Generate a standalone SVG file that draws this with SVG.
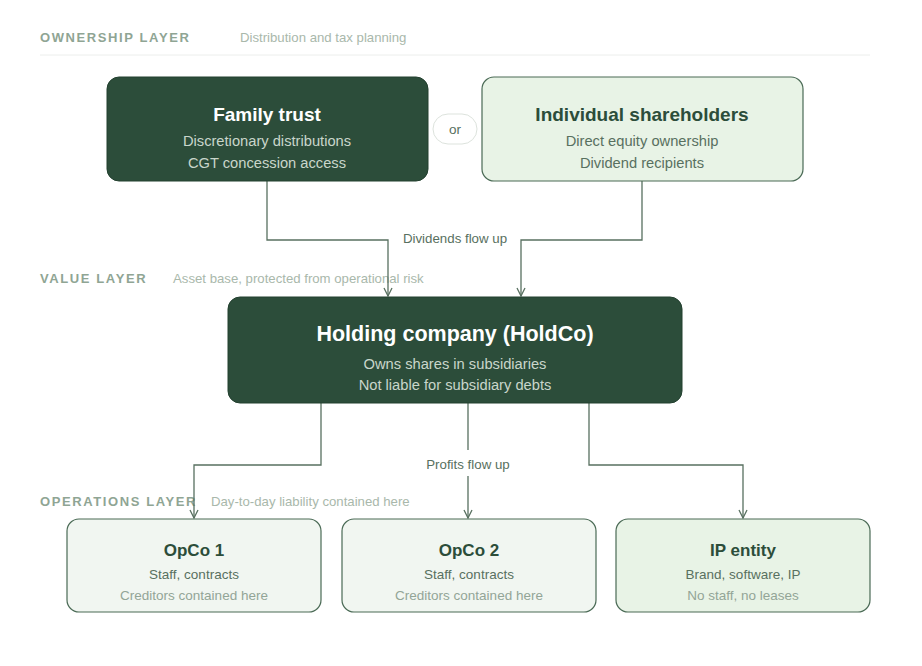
<svg xmlns="http://www.w3.org/2000/svg" width="922" height="666" viewBox="0 0 922 666">
<style>
text{font-family:"Liberation Sans",Arial,sans-serif}
.layer{font-size:13px;font-weight:bold;letter-spacing:1.6px;fill:#8fa594}
.sub{font-size:13.2px;fill:#a9b8ab}
.dark{fill:#2c4d3a;stroke:#23402f;stroke-width:1}
.light{fill:#f1f6f1;stroke:#4a6a55;stroke-width:1.2}
.ip{fill:#e8f3e6;stroke:#4a6a55;stroke-width:1.2}
.t1{font-size:19px;font-weight:bold;fill:#ffffff;text-anchor:middle}
.t0{font-size:21.5px;font-weight:bold;fill:#ffffff;text-anchor:middle}
.t1d{font-size:19px;font-weight:bold;fill:#2c4d3a;text-anchor:middle}
.t2{font-size:14.7px;fill:#c9d6cb;text-anchor:middle}
.t2d{font-size:14.7px;fill:#587060;text-anchor:middle}
.t3{font-size:17px;font-weight:bold;fill:#2c4d3a;text-anchor:middle}
.l1{font-size:13.5px;fill:#587060;text-anchor:middle}
.l2{font-size:13.5px;fill:#93a597;text-anchor:middle}
.c{fill:none;stroke:#587060;stroke-width:1.3}
.cl{font-size:13.3px;fill:#587060;text-anchor:middle}
</style>
<defs><marker id="a" viewBox="0 0 10 10" refX="9" refY="5" markerWidth="10" markerHeight="10" markerUnits="userSpaceOnUse" orient="auto"><path d="M1,1 L9,5 L1,9" fill="none" stroke="#587060" stroke-width="1.3"/></marker></defs>
<text x="40" y="42" class="layer">OWNERSHIP LAYER</text>
<text x="240" y="42" class="sub">Distribution and tax planning</text>
<line x1="40" y1="55" x2="870" y2="55" stroke="#eceeec"/>
<text x="40" y="283" class="layer">VALUE LAYER</text>
<text x="173" y="283" class="sub">Asset base, protected from operational risk</text>
<text x="40" y="506" class="layer">OPERATIONS LAYER</text>
<text x="211" y="506" class="sub">Day-to-day liability contained here</text>
<g id="connectors">
<path class="c" d="M267,181 V240 H388 V296" marker-end="url(#a)"/>
<path class="c" d="M642,181 V240 H521 V296" marker-end="url(#a)"/>
<text x="455" y="243" class="cl">Dividends flow up</text>
<path class="c" d="M321,403 V465 H194 V518" marker-end="url(#a)"/>
<path class="c" d="M468,403 V450 M468,476 V518" marker-end="url(#a)"/>
<text x="468" y="469" class="cl">Profits flow up</text>
<path class="c" d="M589,403 V465 H743 V518" marker-end="url(#a)"/>
</g>
<g id="trust"><rect x="107" y="77" width="321" height="104" rx="12" class="dark"/>
<text x="267" y="121" class="t1">Family trust</text>
<text x="267" y="146" class="t2">Discretionary distributions</text>
<text x="267" y="168" class="t2">CGT concession access</text></g>
<g id="or"><rect x="433" y="114" width="44" height="30" rx="15" fill="#fff" stroke="#dde3dd"/>
<text x="455" y="134" class="l1">or</text></g>
<g id="individual"><rect x="482" y="77" width="321" height="104" rx="12" class="ip"/>
<text x="642" y="121" class="t1d">Individual shareholders</text>
<text x="642" y="146" class="t2d">Direct equity ownership</text>
<text x="642" y="168" class="t2d">Dividend recipients</text></g>
<g id="holdco"><rect x="228" y="297" width="454" height="106" rx="12" class="dark"/>
<text x="455" y="341" class="t0">Holding company (HoldCo)</text>
<text x="455" y="369" class="t2">Owns shares in subsidiaries</text>
<text x="455" y="390" class="t2">Not liable for subsidiary debts</text></g>
<g id="opco1"><rect x="67" y="519" width="254" height="93" rx="12" class="light"/>
<text x="194" y="556" class="t3">OpCo 1</text>
<text x="194" y="579" class="l1">Staff, contracts</text>
<text x="194" y="600" class="l2">Creditors contained here</text></g>
<g id="opco2"><rect x="342" y="519" width="254" height="93" rx="12" class="light"/>
<text x="469" y="556" class="t3">OpCo 2</text>
<text x="469" y="579" class="l1">Staff, contracts</text>
<text x="469" y="600" class="l2">Creditors contained here</text></g>
<g id="ip"><rect x="616" y="519" width="254" height="93" rx="12" class="ip"/>
<text x="743" y="556" class="t3">IP entity</text>
<text x="743" y="579" class="l1">Brand, software, IP</text>
<text x="743" y="600" class="l2">No staff, no leases</text></g>
</svg>
